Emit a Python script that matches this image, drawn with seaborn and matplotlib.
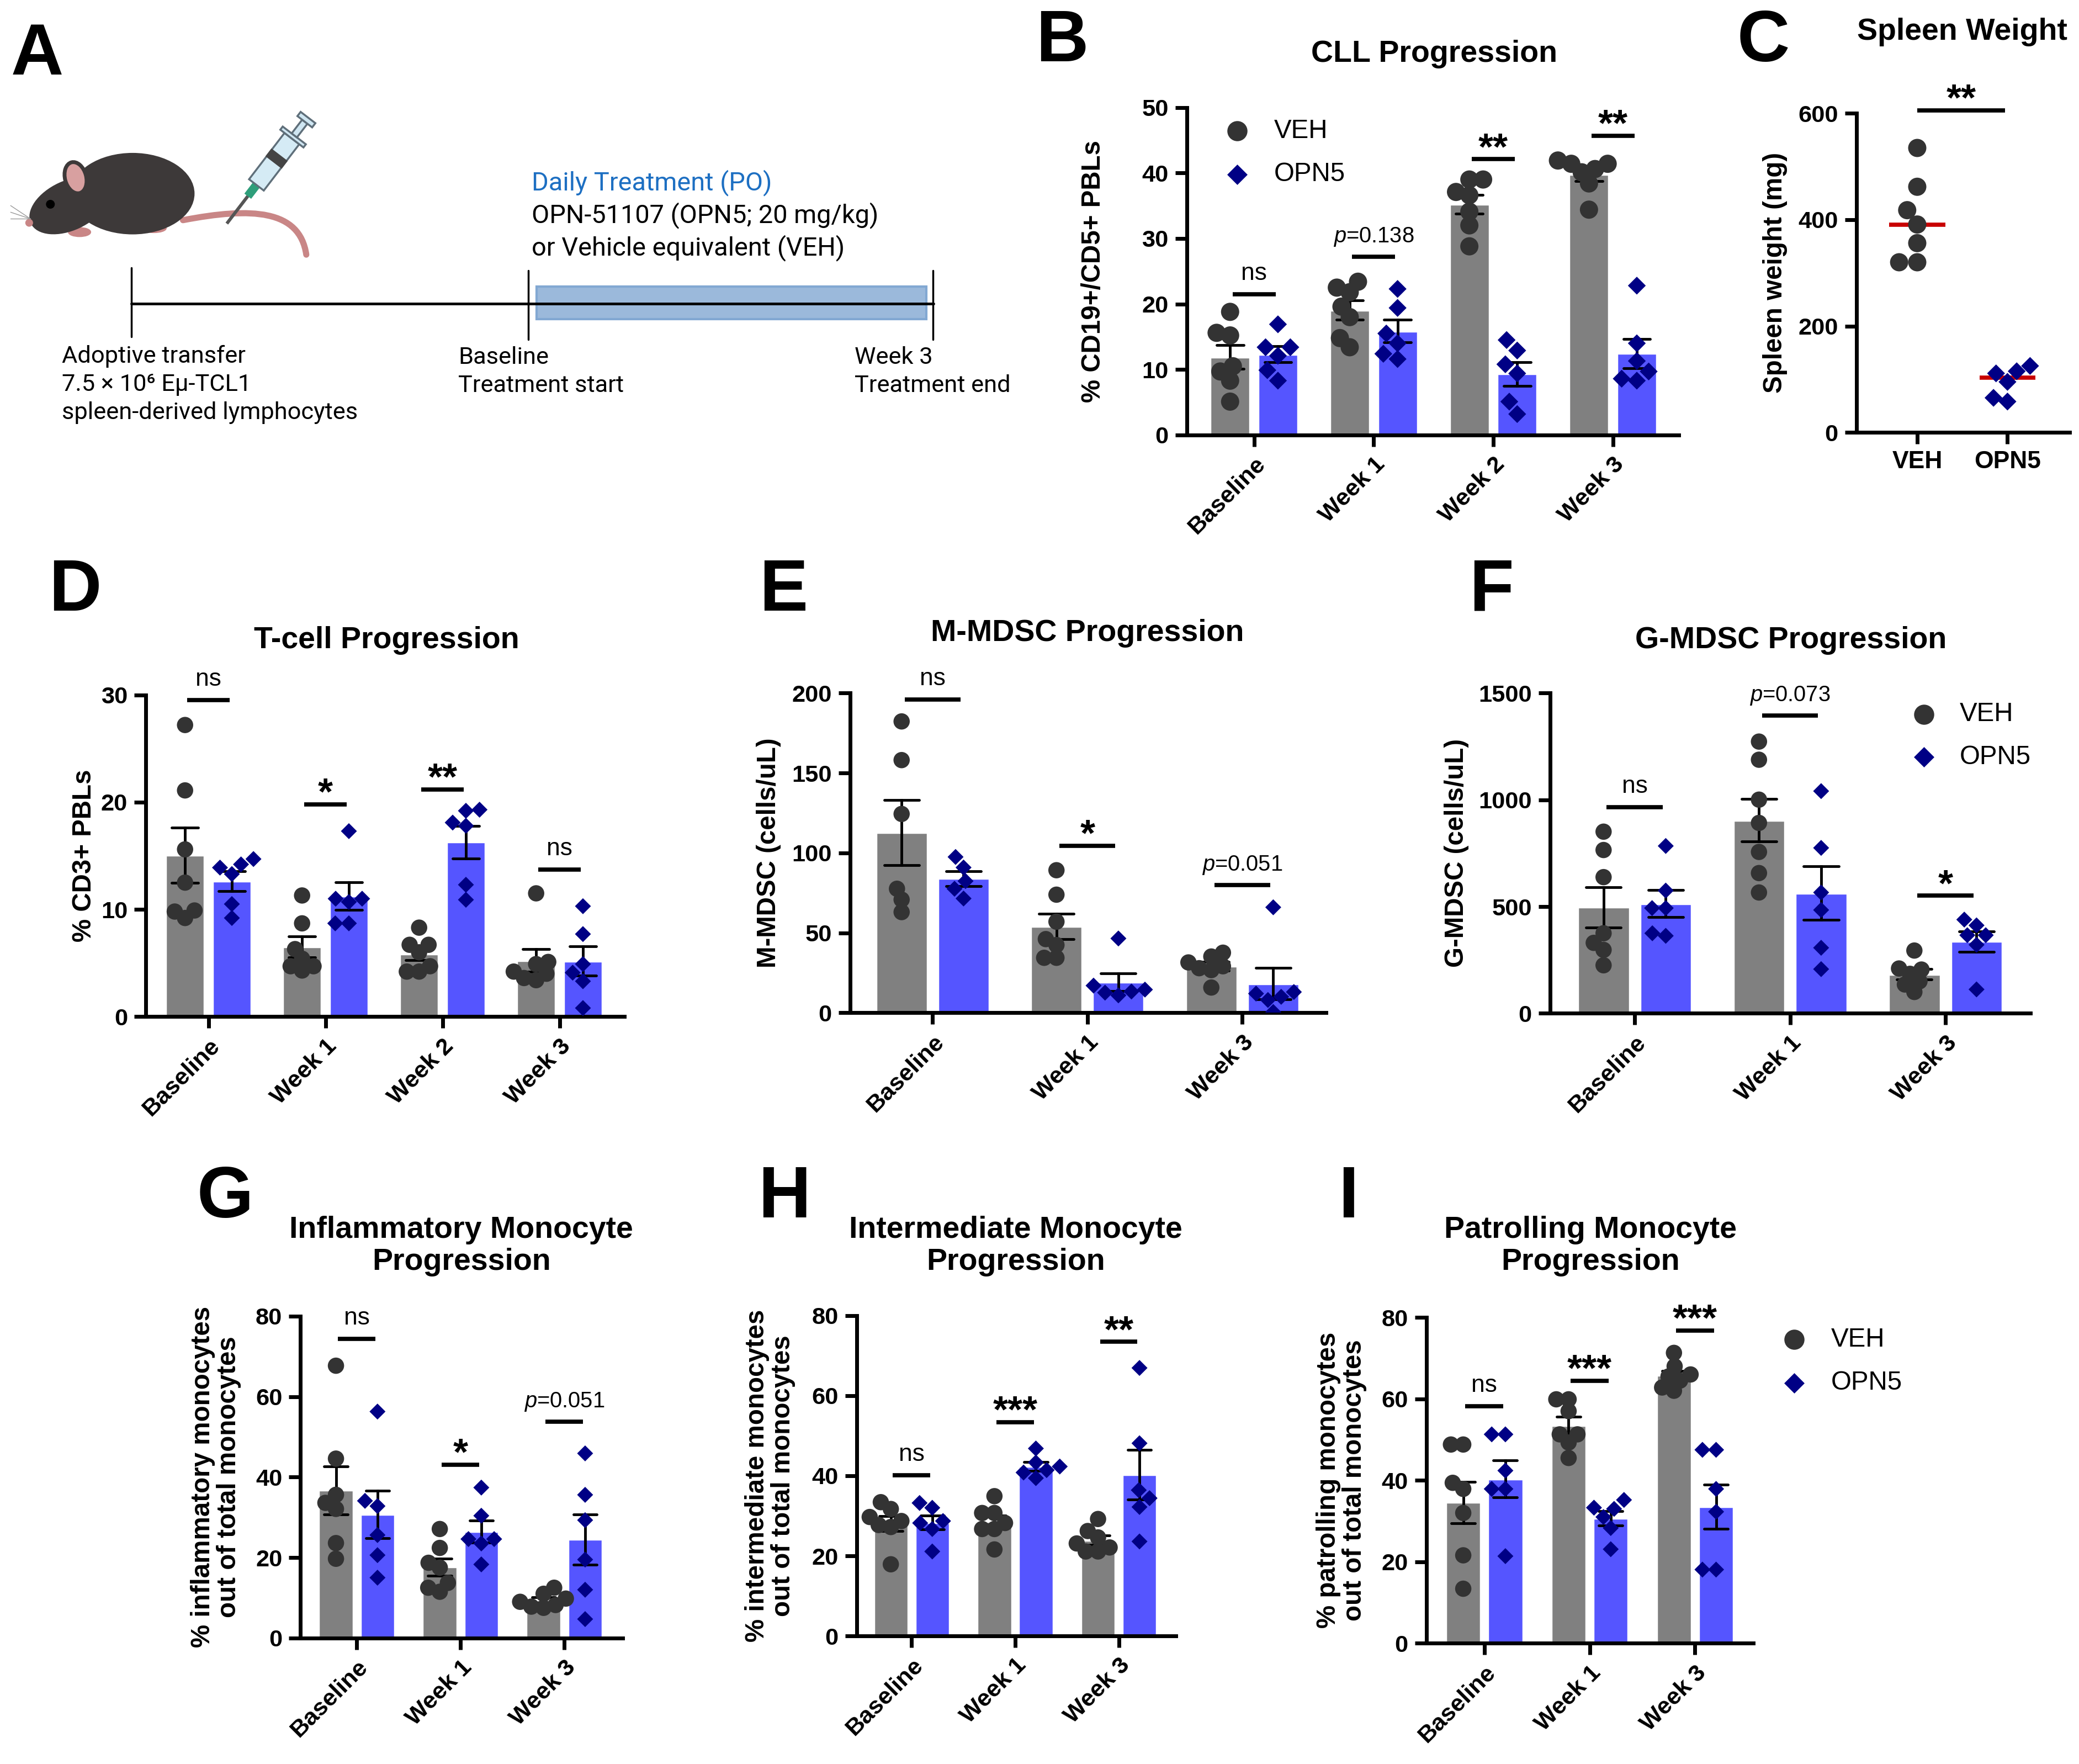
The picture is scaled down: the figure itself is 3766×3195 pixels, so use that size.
import numpy as np
import pandas as pd
import matplotlib
matplotlib.use('Agg')
import matplotlib.pyplot as plt
from matplotlib.patches import Ellipse, Circle, Rectangle, Polygon, PathPatch
from matplotlib.path import Path
from matplotlib.lines import Line2D
import seaborn as sns

# layout grid (reference drawn at 1568 x 1330 units)
W, H = 1568, 1330

groups = ['VEH', 'OPN5']
times4 = ['Baseline', 'Week 1', 'Week 2', 'Week 3']
times3 = ['Baseline', 'Week 1', 'Week 3']

# B: CLL progression, % CD19+/CD5+ PBLs
cll_veh = [[18.8, 15.6, 15.2, 10.5, 9.7, 8.3, 5.1],
           [23.4, 22.5, 21.8, 19.6, 18.0, 14.8, 13.4],
           [39.0, 39.0, 37.1, 36.6, 34.1, 32.0, 28.8],
           [41.9, 41.4, 41.4, 40.6, 40.1, 38.4, 34.4]]
cll_opn = [[16.9, 13.4, 13.4, 12.1, 9.9, 8.3],
           [22.3, 19.4, 15.5, 14.0, 12.4, 11.6],
           [14.5, 12.9, 10.8, 9.4, 5.1, 3.2],
           [22.8, 14.0, 11.3, 9.7, 8.6, 8.3]]
cll_sig = ['ns', 'p=0.138', '**', '**']
cll_sig_y = [21.5, 27.2, 42.1, 45.7]

# C: spleen weight (mg)
spleen_veh = [535, 462, 418, 391, 356, 320, 320]
spleen_opn = [125, 115, 111, 95, 65, 58]

# D: T-cells, % CD3+ PBLs
tcell_veh = [[27.2, 21.1, 15.6, 12.5, 9.9, 9.8, 9.2],
             [11.3, 8.7, 6.3, 5.4, 4.7, 4.7, 4.3],
             [8.3, 6.7, 6.7, 6.0, 4.7, 4.2, 4.2],
             [11.5, 5.1, 4.9, 4.2, 4.0, 3.6, 3.4]]
tcell_opn = [[14.7, 14.2, 13.9, 13.3, 10.5, 9.2],
             [17.3, 11.0, 11.0, 10.7, 8.7, 8.7],
             [19.3, 19.2, 18.1, 17.8, 12.3, 10.9],
             [10.3, 7.7, 4.9, 4.1, 3.3, 0.8]]
tcell_sig = ['ns', '*', '**', 'ns']
tcell_sig_y = [29.5, 19.8, 21.2, 13.7]

# E: M-MDSC (cells/uL)
mmdsc_veh = [[182.3, 158.1, 124.4, 77.6, 70.8, 63.0],
             [89.2, 73.9, 57.0, 46.1, 42.4, 34.4, 34.4],
             [37.6, 35.2, 31.5, 29.1, 27.9, 26.7, 15.8]]
mmdsc_opn = [[97.5, 90.9, 82.4, 77.6, 71.5],
             [46.5, 17.0, 14.5, 13.3, 12.6, 10.9],
             [66.0, 13.0, 12.0, 10.0, 8.0, 0.5]]
mmdsc_sig = ['ns', '*', 'p=0.051']
mmdsc_sig_y = [195.9, 104.5, 80.0]

# F: G-MDSC (cells/uL)
gmdsc_veh = [[851, 765, 638, 375, 330, 297, 225],
             [1273, 1188, 1001, 892, 756, 657, 566],
             [294, 210, 205, 185, 150, 135, 100]]
gmdsc_opn = [[784, 575, 493, 493, 375, 363],
             [1041, 775, 566, 484, 307, 207],
             [439, 412, 366, 366, 321, 112]]
gmdsc_sig = ['ns', 'p=0.073', '*']
gmdsc_sig_y = [965, 1395, 551]

# G: inflammatory monocytes (% of total monocytes)
infl_veh = [[67.7, 44.6, 35.6, 33.6, 32.1, 23.6, 19.7],
            [27.1, 22.4, 18.7, 17.5, 13.7, 12.5, 11.5],
            [12.5, 11.0, 9.8, 9.0, 8.2, 7.8, 7.5]]
infl_opn = [[56.3, 34.1, 32.8, 25.6, 20.6, 15.0],
            [37.4, 30.4, 24.6, 24.6, 23.5, 18.3],
            [45.9, 35.6, 29.3, 19.5, 12.0, 4.7]]
infl_sig = ['ns', '*', 'p=0.051']
infl_sig_y = [74.4, 43.1, 53.8]

# H: intermediate monocytes
inter_veh = [[33.4, 31.7, 29.7, 28.7, 27.7, 27.2, 17.9],
             [34.9, 30.7, 30.7, 28.2, 26.7, 26.7, 21.6],
             [29.2, 26.2, 24.6, 23.1, 22.1, 21.1, 21.1]]
inter_opn = [[33.2, 32.0, 28.7, 28.2, 26.7, 21.1],
             [46.8, 43.3, 42.3, 41.4, 40.8, 39.4],
             [66.9, 48.1, 36.4, 34.4, 32.2, 23.6]]
inter_sig = ['ns', '***', '**']
inter_sig_y = [40.1, 53.4, 73.4]

# I: patrolling monocytes
patrol_veh = [[48.8, 48.8, 39.4, 37.9, 32.0, 21.6, 13.4],
              [59.9, 59.9, 57.0, 51.3, 51.3, 49.3, 45.5],
              [71.3, 68.0, 66.0, 65.5, 64.5, 62.8, 62.0]]
patrol_opn = [[51.3, 51.3, 42.4, 37.9, 37.9, 21.4],
              [35.2, 33.3, 33.0, 31.0, 28.3, 23.1],
              [47.5, 47.5, 37.9, 32.3, 18.1, 18.1]]
patrol_sig = ['ns', '***', '***']
patrol_sig_y = [58.2, 64.5, 76.8]

bar_colors = {'VEH': '#808080', 'OPN5': '#5555ff'}
dot_colors = {'VEH': '#333333', 'OPN5': '#000085'}

sns.set_style('ticks')
plt.rcParams['font.family'] = ['Liberation Sans', 'DejaVu Sans']
plt.rcParams['mathtext.fontset'] = 'custom'
plt.rcParams['mathtext.rm'] = 'Liberation Sans'
plt.rcParams['mathtext.it'] = 'Liberation Sans:italic'
plt.rcParams['text.color'] = 'black'
plt.rcParams['axes.labelcolor'] = 'black'
plt.rcParams['axes.edgecolor'] = 'black'
plt.rcParams['xtick.color'] = 'black'
plt.rcParams['ytick.color'] = 'black'

fig = plt.figure(figsize=(3766 / 250, 3195 / 250), dpi=250)

# swarm collections to resize after placement (Prism lets dots overlap a bit)
grow_later = []


def fx(x):
    return x / W


def fy(y):
    return 1 - y / H


def to_fig(l, t, r, b):
    return [l / W, 1 - b / H, (r - l) / W, (b - t) / H]


def long_table(times, veh, opn):
    rows = []
    for t, v, o in zip(times, veh, opn):
        rows += [(t, 'VEH', x) for x in v]
        rows += [(t, 'OPN5', x) for x in o]
    return pd.DataFrame(rows, columns=['time', 'group', 'value'])


def swarm(ax, data, x, order, marker, size, place, dodge):
    n = len(ax.collections)
    sns.swarmplot(data=data, x=x, y='value', hue='group', order=order, hue_order=groups,
                  palette=dot_colors, dodge=dodge, marker=marker, size=place,
                  legend=False, warn_thresh=1, ax=ax)
    for coll in ax.collections[n:]:
        grow_later.append((coll, size))


def style_axes(ax, rect, ylim, yticks, ylabel, lab_x):
    ax.patch.set_alpha(0)
    sns.despine(ax=ax)
    for s in ['left', 'bottom']:
        ax.spines[s].set_linewidth(2)
    ax.tick_params(axis='both', width=2, length=6, labelsize=12.5)
    ax.set_ylim(ylim)
    ax.set_yticks(yticks)
    for lab in ax.get_yticklabels():
        lab.set_fontweight('bold')
    ax.set_xlabel('')
    ax.set_ylabel(ylabel, fontsize=13.7, fontweight='bold', linespacing=1.05)
    ax.yaxis.set_label_coords((lab_x - rect[0]) / (rect[2] - rect[0]), 0.5)


def sig_marks(ax, labels, heights, half=0.18, xs=None):
    for i, (lab, y) in enumerate(zip(labels, heights)):
        if xs is None:
            x0, x1, xc = i - half, i + half, i
        else:
            x0, x1, xc = xs[0], xs[1], (xs[0] + xs[1]) / 2
        ax.plot([x0, x1], [y, y], color='black', lw=2.2, solid_capstyle='butt', clip_on=False)
        kw = dict(xytext=(0, 7.5), textcoords='offset points', ha='center', va='baseline',
                  annotation_clip=False)
        if lab.startswith('*'):
            kw['xytext'] = (0, 0)
            ax.annotate(lab, (xc, y), fontsize=20, fontweight='bold', **kw)
        elif lab.startswith('p='):
            ax.annotate(r'$p$=' + lab[2:], (xc, y), fontsize=11.5, **kw)
        else:
            ax.annotate(lab, (xc, y), fontsize=12.8, **kw)


def bar_panel(rect, xlim, times, veh, opn, ylim, yticks, ylabel, lab_x, sig, sig_y,
              dot_o=8.5, dot_d=5.9):
    ax = fig.add_axes(to_fig(*rect))
    df = long_table(times, veh, opn)
    sns.barplot(data=df, x='time', y='value', hue='group', order=times, hue_order=groups,
                palette=bar_colors, saturation=1, gap=0.17, errorbar='se', capsize=0.45,
                err_kws={'color': 'black', 'linewidth': 1.4}, legend=False, ax=ax)
    swarm(ax, df[df['group'] == 'VEH'], 'time', times, 'o', dot_o, dot_o * 0.72, True)
    swarm(ax, df[df['group'] == 'OPN5'], 'time', times, 'D', dot_d, dot_d * 1.15, True)
    style_axes(ax, rect, ylim, yticks, ylabel, lab_x)
    ax.set_xlim(xlim)
    ax.set_xticks(range(len(times)))
    ax.set_xticklabels(times, rotation=45, ha='right', rotation_mode='anchor',
                       fontsize=12.5, fontweight='bold')
    sig_marks(ax, sig, sig_y)
    return ax


def legend_at(x, y0, y1, tx, so=9.5, sd=6.6):
    fig.add_artist(Line2D([fx(x)], [fy(y0)], marker='o', ls='none', markersize=so,
                          color=dot_colors['VEH'], transform=fig.transFigure))
    fig.add_artist(Line2D([fx(x)], [fy(y1)], marker='D', ls='none', markersize=sd,
                          color=dot_colors['OPN5'], transform=fig.transFigure))
    fig.text(fx(tx), fy(y0), 'VEH', fontsize=13.7, va='center', ha='left')
    fig.text(fx(tx), fy(y1), 'OPN5', fontsize=13.7, va='center', ha='left')


# ---------------- panel A: schematic ----------------
ax_a = fig.add_axes(to_fig(0, 0, 780, 345))
ax_a.set_xlim(0, 780)
ax_a.set_ylim(345, 0)
ax_a.axis('off')

grey = '#3d3939'
pink = '#c98686'
tail = Path([(138, 166), (190, 156), (226, 158), (231, 192)],
            [Path.MOVETO, Path.CURVE4, Path.CURVE4, Path.CURVE4])
ax_a.add_patch(PathPatch(tail, fill=False, edgecolor=pink, lw=3.2, capstyle='round'))
ax_a.add_patch(Ellipse((60, 175), 16, 6, color=pink))
ax_a.add_patch(Ellipse((116, 172), 18, 6, color=pink))
ax_a.add_patch(Ellipse((100, 146), 92, 60, color=grey))
ax_a.add_patch(Ellipse((52, 155), 62, 36, angle=-25, color=grey))
ax_a.add_patch(Ellipse((57, 134), 16, 24, angle=-15, fc='#d8a0a0', ec=grey, lw=2))
ax_a.add_patch(Circle((38, 154), 2.6, color='black'))
ax_a.add_patch(Circle((22, 168), 2.2, color=pink))
for dy in (-5, 0, 5):
    ax_a.plot([23, 8], [165, 160 + dy], color='#999999', lw=0.4)


def stick(t0, t1, hw):
    p = np.array([171.5, 168.0])
    u = np.array([60.5, -79.0])
    u = u / np.hypot(*u)
    n = np.array([-u[1], u[0]])
    a, b = p + u * t0, p + u * t1
    return [a + n * hw, b + n * hw, b - n * hw, a - n * hw]


ax_a.add_patch(Polygon(stick(0, 27, 0.5), color='#555555'))
ax_a.add_patch(Polygon(stick(26, 36, 2.5), color='#2e9e7a'))
ax_a.add_patch(Polygon(stick(36, 80, 7), fc='#d5ebf5', ec='#5f6f7a', lw=1))
ax_a.add_patch(Polygon(stick(58, 64, 7), fc='#444444', ec='#444444', lw=1))
ax_a.add_patch(Polygon(stick(80, 83, 11), fc='#cfe6f2', ec='#5f6f7a', lw=1))
ax_a.add_patch(Polygon(stick(83, 96, 2.5), fc='#cfe6f2', ec='#5f6f7a', lw=1))
ax_a.add_patch(Polygon(stick(96, 100, 7), fc='#cfe6f2', ec='#5f6f7a', lw=1))

ax_a.add_patch(Rectangle((404.6, 216), 294, 24.4, fc='#9bb9db', ec='#82a8d2', lw=1.2))
ax_a.plot([99, 704], [229, 229], color='black', lw=1.4)
for x, y0 in [(99, 202), (398.6, 204), (703.8, 204)]:
    ax_a.plot([x, x], [y0, y0 + 52], color='black', lw=1.0)

font_a = ['Roboto', 'DejaVu Sans']
ax_a.text(401, 138, 'Daily Treatment (PO)', color='#1d6fc2', fontsize=13.5, va='center', family=font_a)
ax_a.text(401, 162.5, 'OPN-51107 (OPN5; 20 mg/kg)', fontsize=13.5, va='center', family=font_a)
ax_a.text(401, 187, 'or Vehicle equivalent (VEH)', fontsize=13.5, va='center', family=font_a)
ax_a.text(46.5, 268.7, 'Adoptive transfer', fontsize=12.5, va='center', family=font_a)
ax_a.text(46.5, 290, '7.5 × 10⁶ Eμ-TCL1', fontsize=12.5, va='center', family=font_a)
ax_a.text(46.5, 311, 'spleen-derived lymphocytes', fontsize=12.5, va='center', family=font_a)
ax_a.text(345.6, 269.7, 'Baseline', fontsize=12.5, va='center', family=font_a)
ax_a.text(345.6, 290.6, 'Treatment start', fontsize=12.5, va='center', family=font_a)
ax_a.text(644.7, 269.7, 'Week 3', fontsize=12.5, va='center', family=font_a)
ax_a.text(644.7, 290.6, 'Treatment end', fontsize=12.5, va='center', family=font_a)

# ---------------- panel B ----------------
bar_panel((895, 81, 1266, 328), (-0.563, 3.549), times4, cll_veh, cll_opn, (0, 50),
          range(0, 51, 10), '% CD19+/CD5+ PBLs', 834, cll_sig, cll_sig_y, dot_o=9.5, dot_d=6.6)
legend_at(933, 98.8, 131.4, 961)

# ---------------- panel C ----------------
rect_c = (1400, 85.5, 1561, 326)
ax_c = fig.add_axes(to_fig(*rect_c))
df_c = pd.DataFrame({'group': ['VEH'] * len(spleen_veh) + ['OPN5'] * len(spleen_opn),
                     'value': spleen_veh + spleen_opn})
sns.boxplot(data=df_c, x='group', y='value', order=groups, width=0.62, showbox=False,
            showcaps=False, showfliers=False, whiskerprops={'visible': False},
            medianprops={'color': '#c80000', 'linewidth': 2.2}, ax=ax_c)
swarm(ax_c, df_c[df_c['group'] == 'VEH'], 'group', groups, 'o', 9.5, 9.0, False)
swarm(ax_c, df_c[df_c['group'] == 'OPN5'], 'group', groups, 'D', 6.6, 7.2, False)
style_axes(ax_c, rect_c, (0, 600), range(0, 601, 200), 'Spleen weight (mg)', 1348)
ax_c.set_xlim(-0.676, 1.69)
ax_c.set_xticks([0, 1])
ax_c.set_xticklabels(groups, fontsize=12.8, fontweight='bold')
sig_marks(ax_c, ['**'], [606], xs=(0.0, 0.97))

# ---------------- row 2 ----------------
bar_panel((110, 524, 471, 766.5), (-0.535, 3.555), times4, tcell_veh, tcell_opn, (0, 30),
          range(0, 31, 10), '% CD3+ PBLs', 73, tcell_sig, tcell_sig_y)
bar_panel((641, 522.6, 1000, 763.6), (-0.534, 2.54), times3, mmdsc_veh, mmdsc_opn, (0, 200),
          range(0, 201, 50), 'M-MDSC (cells/uL)', 589, mmdsc_sig, mmdsc_sig_y)
bar_panel((1169, 522.6, 1531.5, 764), (-0.545, 2.548), times3, gmdsc_veh, gmdsc_opn, (0, 1500),
          range(0, 1501, 500), 'G-MDSC (cells/uL)', 1108, gmdsc_sig, gmdsc_sig_y)
legend_at(1450.8, 538.6, 570.8, 1478)

# ---------------- row 3 ----------------
bar_panel((226.6, 992.4, 469.5, 1235), (-0.542, 2.56), times3, infl_veh, infl_opn, (0, 80),
          range(0, 81, 20), '% inflammatory monocytes\nout of total monocytes', 182,
          infl_sig, infl_sig_y)
bar_panel((646, 991.8, 887, 1233.5), (-0.531, 2.553), times3, inter_veh, inter_opn, (0, 80),
          range(0, 81, 20), '% intermediate monocytes\nout of total monocytes', 600,
          inter_sig, inter_sig_y)
bar_panel((1075.7, 993.3, 1322.5, 1239), (-0.551, 2.555), times3, patrol_veh, patrol_opn, (0, 80),
          range(0, 81, 20), '% patrolling monocytes\nout of total monocytes', 1031,
          patrol_sig, patrol_sig_y)
legend_at(1353.2, 1010, 1042.6, 1381)

# ---------------- titles and panel letters ----------------
titles = [(1081.7, 41, 'CLL Progression'), (1480, 24, 'Spleen Weight'),
          (291.7, 483, 'T-cell Progression'), (820, 477.3, 'M-MDSC Progression'),
          (1350.7, 483, 'G-MDSC Progression'),
          (348, 939.4, 'Inflammatory Monocyte\nProgression'),
          (766, 939.4, 'Intermediate Monocyte\nProgression'),
          (1199.5, 939.4, 'Patrolling Monocyte\nProgression')]
for x, y, t in titles:
    fig.text(fx(x), fy(y), t, ha='center', va='center', fontsize=16, fontweight='bold',
             linespacing=1.15)

letters = [('A', 28, 42), ('B', 801, 32), ('C', 1330, 32), ('D', 56.5, 446),
           ('E', 590.7, 446), ('F', 1124.6, 446), ('G', 170, 903.5), ('H', 591.5, 903.5),
           ('I', 1017, 903.5)]
for s, x, y in letters:
    fig.text(fx(x), fy(y), s, ha='center', va='center', fontsize=38, fontweight='bold')

# let seaborn place the swarms, then freeze them and draw the dots at full size
fig.canvas.draw()
for coll, size in grow_later:
    if 'draw' in coll.__dict__:
        del coll.draw
    coll.set_sizes([size ** 2])

fig.savefig('out.png', dpi=250)
